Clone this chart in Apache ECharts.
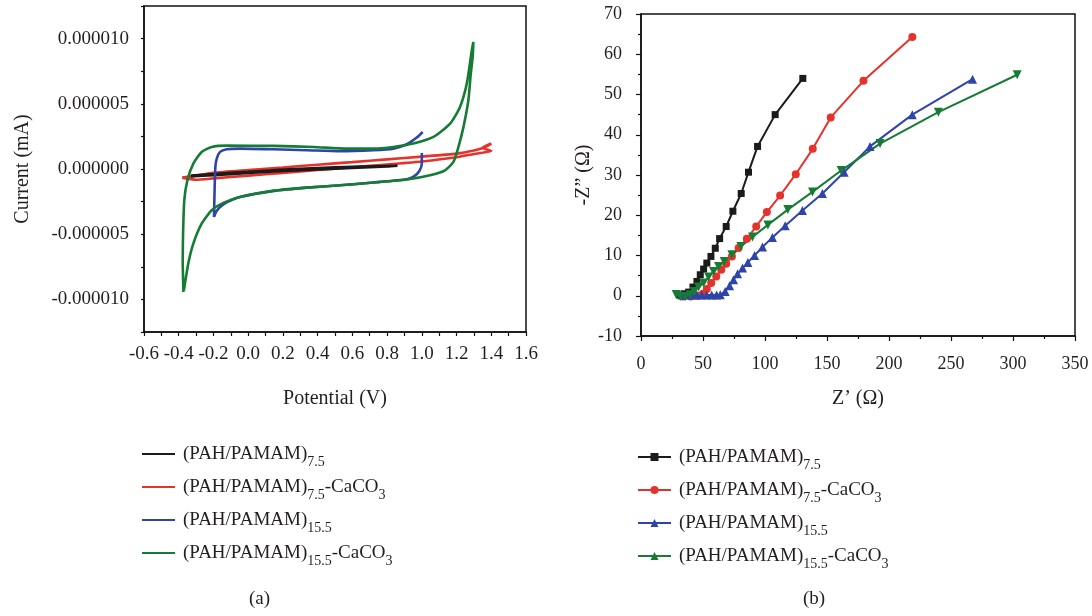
<!DOCTYPE html>
<html>
<head>
<meta charset="utf-8">
<script src="https://cdn.jsdelivr.net/npm/echarts@6/dist/echarts.min.js"></script>
<style>
html,body{margin:0;padding:0;background:#fff;}
#chart{width:1092px;height:616px;}
</style>
</head>
<body>
<div id="chart"></div>
<script>
// ---------- (a) Cyclic voltammetry: [Potential (V), Current (mA)] ----------
var cvBlack = [[-0.33,-0.50e-6],[-0.2,-0.38e-6],[0,-0.22e-6],[0.2,-0.05e-6],[0.4,0.08e-6],[0.6,0.16e-6],[0.86,0.25e-6],
  [0.8,0.19e-6],[0.6,0.08e-6],[0.4,-0.04e-6],[0.2,-0.15e-6],[0,-0.31e-6],[-0.2,-0.47e-6],[-0.33,-0.58e-6]];
var cvRed = [[-0.38,-0.66e-6],[-0.3,-0.50e-6],[-0.2,-0.29e-6],[0,-0.08e-6],[0.2,0.12e-6],[0.4,0.33e-6],[0.6,0.53e-6],
  [0.8,0.74e-6],[1.0,0.95e-6],[1.2,1.18e-6],[1.3,1.42e-6],[1.36,1.65e-6],[1.40,1.95e-6],[1.35,1.62e-6],[1.40,1.38e-6],
  [1.3,1.15e-6],[1.2,0.90e-6],[1.0,0.58e-6],[0.8,0.35e-6],[0.6,0.13e-6],[0.4,-0.08e-6],[0.2,-0.30e-6],[0,-0.51e-6],
  [-0.2,-0.72e-6],[-0.3,-0.82e-6],[-0.38,-0.66e-6]];
var cvBlueForward = [[-0.197,-3.68e-6],[-0.193,-1.37e-6],[-0.189,0.16e-6],[-0.181,0.80e-6],[-0.162,1.31e-6],[-0.124,1.51e-6],
  [-0.047,1.56e-6],[0.145,1.51e-6],[0.337,1.44e-6],[0.529,1.36e-6],[0.721,1.44e-6],[0.836,1.56e-6],[0.913,1.90e-6],
  [0.971,2.41e-6],[1.005,2.84e-6]];
var cvBlueReverse = [[1.0,1.23e-6],[1.0,0.42e-6],[0.986,-0.15e-6],[0.955,-0.56e-6],[0.913,-0.79e-6],[0.721,-1.04e-6],
  [0.529,-1.25e-6],[0.337,-1.43e-6],[0.145,-1.68e-6],[-0.047,-2.14e-6],[-0.124,-2.55e-6],[-0.162,-2.91e-6],
  [-0.185,-3.29e-6],[-0.197,-3.68e-6]];
var cvGreen = [[-0.373,-9.43e-6],[-0.377,-7.00e-6],[-0.375,-4.95e-6],[-0.368,-2.40e-6],[-0.350,-0.86e-6],[-0.316,0.41e-6],
  [-0.268,1.31e-6],[-0.210,1.69e-6],[-0.124,1.79e-6],[0.145,1.77e-6],[0.375,1.69e-6],[0.567,1.56e-6],[0.721,1.56e-6],
  [0.836,1.69e-6],[0.951,1.95e-6],[1.067,2.46e-6],[1.163,3.48e-6],[1.220,4.76e-6],[1.259,6.55e-6],[1.288,9.11e-6],
  [1.297,9.74e-6],[1.293,8.59e-6],[1.282,7.32e-6],[1.268,5.27e-6],[1.240,3.23e-6],[1.211,1.69e-6],[1.182,0.54e-6],
  [1.134,-0.10e-6],[1.047,-0.48e-6],[0.913,-0.81e-6],[0.721,-1.04e-6],[0.529,-1.25e-6],[0.337,-1.43e-6],
  [0.145,-1.68e-6],[-0.047,-2.14e-6],[-0.143,-2.60e-6],[-0.210,-3.16e-6],[-0.268,-4.19e-6],[-0.316,-5.72e-6],
  [-0.345,-7.25e-6],[-0.370,-9.30e-6]];

// ---------- (b) Nyquist plots: [Z' (Ohm), -Z'' (Ohm)] ----------
var eisBlack = [[31,0.2],[35,0.5],[38.4,0.9],[41.9,2.15],[45.1,3.56],[47.8,5.22],[50.5,6.63],[53.1,8.12],[56.4,9.77],
  [59.9,11.8],[63.4,14.2],[68.7,17.2],[74.1,21.0],[80.8,25.4],[86.7,30.7],[94.0,37.1],[108.2,45.0],[130.5,54.0]];
var eisRed = [[34,-0.2],[40,-0.2],[45.6,0],[49.9,0.5],[53.1,1.66],[56.6,3.15],[60.7,4.8],[64.7,6.46],[68.7,7.95],
  [73.3,9.77],[78.7,11.84],[85.4,14.16],[92.9,17.23],[101.5,20.8],[112.2,24.9],[124.8,30.2],[138.5,36.5],
  [153.0,44.3],[179.4,53.4],[218.8,64.3]];
var eisBlue = [[33,0.2],[37,0.2],[41,0.2],[45,0.2],[49,0.2],[53,0.2],[57,0.2],[61,0.2],[63.9,0.25],[67.9,1.08],
  [71.4,2.48],[74.6,3.97],[77.9,5.47],[81.9,6.87],[86.2,8.28],[91.6,10.02],[98.0,12.1],[106.0,14.5],[116.3,17.4],
  [130.2,21.2],[146.3,25.4],[163.8,30.7],[184.7,37.1],[218.8,45.0],[267.4,53.8]];
var eisGreen = [[28.4,0.3],[31.7,-0.2],[35.7,-0.2],[39.7,0.25],[42.9,1.08],[46.4,2.15],[50.5,3.15],[54.5,4.64],
  [58.5,6.04],[62.5,7.29],[67.1,8.53],[73.3,10.19],[80.5,12.26],[89.9,14.6],[102.3,17.6],[118.4,21.4],[138.3,25.8],
  [161.4,31.1],[192.8,37.8],[239.8,45.6],[303.4,54.9]];

// ---------- labels ----------
var sampleNames = ['(PAH/PAMAM)_7.5', '(PAH/PAMAM)_7.5-CaCO_3', '(PAH/PAMAM)_15.5', '(PAH/PAMAM)_15.5-CaCO_3'];
var cvAxisNames = ['Potential (V)', 'Current (mA)'];
var eisAxisNames = ['Z\u2019 (\u03A9)', '-Z\u201D (\u03A9)'];
var captions = ['(a)', '(b)'];

var colBlack = '#1b1b1b', colRed = '#e5322b', colBlue = '#2e44a8', colGreen = '#167c34';
var FONT = '"Liberation Serif", "DejaVu Serif", serif';
var TXT = '#231f20';

function richName(s) {
  var out = '', parts = s.split('_');
  out += '{f|' + parts[0] + '}';
  for (var i = 1; i < parts.length; i++) {
    var m = parts[i].match(/^([0-9.]+)(.*)$/);
    out += '{s|' + m[1] + '}';
    if (m[2]) out += '{m|' + m[2] + '}';
  }
  return out;
}
var richStyle = {
  f: {fontFamily: FONT, fontSize: 19, color: TXT, lineHeight: 22, verticalAlign: 'top', padding: [2, 0, 0, 3]},
  m: {fontFamily: FONT, fontSize: 19, color: TXT, lineHeight: 22, verticalAlign: 'top', padding: [2, 0, 0, 0]},
  s: {fontFamily: FONT, fontSize: 14, color: TXT, lineHeight: 14, verticalAlign: 'top', padding: [12, 0, 0, 0]}
};

var cvNames = sampleNames.map(function (n) { return 'CV ' + n; });
var eisNames = sampleNames.map(function (n) { return 'EIS ' + n; });

function lblFont(size) { return {fontFamily: FONT, fontSize: size, color: TXT}; }

var chart = echarts.init(document.getElementById('chart'), null, {renderer: 'canvas'});
var option = {
  animation: false,
  backgroundColor: '#fff',
  grid: [
    {left: 144, top: 6, width: 382, height: 326, show: true, borderColor: '#111', borderWidth: 1.5, backgroundColor: 'transparent'},
    {left: 641, top: 14, width: 434, height: 322, show: true, borderColor: '#111', borderWidth: 1.5, backgroundColor: 'transparent'}
  ],
  xAxis: [
    {gridIndex: 0, type: 'value', min: -0.6, max: 1.6, interval: 0.2,
     name: cvAxisNames[0], nameLocation: 'middle', nameGap: 57, nameTextStyle: lblFont(20),
     axisLine: {onZero: false, lineStyle: {color: '#111', width: 1.5}},
     axisTick: {show: true, length: 4, lineStyle: {color: '#111', width: 1.2}},
     minorTick: {show: true, splitNumber: 2, length: 4, lineStyle: {color: '#111', width: 1.2}},
     splitLine: {show: false},
     axisLabel: Object.assign(lblFont(19), {margin: 13, formatter: function (v) { if (Math.abs(v) < 1e-9) v = 0; return v.toFixed(1); }})},
    {gridIndex: 1, type: 'value', min: 0, max: 350, interval: 50,
     name: eisAxisNames[0], nameLocation: 'middle', nameGap: 53, nameTextStyle: lblFont(20),
     axisLine: {onZero: false, lineStyle: {color: '#111', width: 1.5}},
     axisTick: {show: true, length: 5, lineStyle: {color: '#111', width: 1.2}},
     minorTick: {show: true, splitNumber: 2, length: 3, lineStyle: {color: '#111', width: 1.2}},
     splitLine: {show: false},
     axisLabel: Object.assign(lblFont(18), {margin: 19})}
  ],
  yAxis: [
    {gridIndex: 0, type: 'value', min: -1.25e-5, max: 1.25e-5, interval: 2.5e-6,
     name: cvAxisNames[1], nameLocation: 'middle', nameGap: 111, nameTextStyle: lblFont(20),
     axisLine: {onZero: false, lineStyle: {color: '#111', width: 1.5}},
     axisTick: {show: true, length: 3, lineStyle: {color: '#111', width: 1.2}},
     splitLine: {show: false},
     axisLabel: Object.assign(lblFont(19), {margin: 15, formatter: function (v) {
       var k = Math.round(v / 2.5e-6);
       if (Math.abs(k) % 2 === 1) return '';
       if (Math.abs(v) < 1e-12) return '0.000000';
       return v.toFixed(6);
     }})},
    {gridIndex: 1, type: 'value', min: -10, max: 70, interval: 10,
     name: eisAxisNames[1], nameLocation: 'middle', nameGap: 44, nameTextStyle: lblFont(20),
     axisLine: {onZero: false, lineStyle: {color: '#111', width: 1.5}},
     axisTick: {show: true, length: 5, lineStyle: {color: '#111', width: 1.2}},
     minorTick: {show: true, splitNumber: 2, length: 3, lineStyle: {color: '#111', width: 1.2}},
     splitLine: {show: false},
     axisLabel: Object.assign(lblFont(18), {margin: 19})}
  ],
  legend: [
    {data: cvNames, orient: 'vertical', left: 137, top: 438, itemWidth: 33, itemHeight: 2, itemGap: 7,
     icon: 'rect', selectedMode: false, formatter: function (n) { return richName(n.replace('CV ', '')); },
     textStyle: {rich: richStyle}},
    {data: eisNames, orient: 'vertical', left: 632, top: 441, itemWidth: 33, itemHeight: 10, itemGap: 7,
     symbolRotate: 0, selectedMode: false, formatter: function (n) { return richName(n.replace('EIS ', '')); },
     textStyle: {rich: richStyle}}
  ],
  graphic: [
    {type: 'text', left: 249, top: 590, style: {text: captions[0], font: '19px ' + FONT, fill: TXT}},
    {type: 'text', left: 803, top: 590, style: {text: captions[1], font: '19px ' + FONT, fill: TXT}}
  ],
  series: [
    {name: cvNames[1], type: 'line', xAxisIndex: 0, yAxisIndex: 0, data: cvRed, symbol: 'none', smooth: 0.2,
     lineStyle: {color: colRed, width: 2.6}, itemStyle: {color: colRed}},
    {name: cvNames[0], type: 'line', xAxisIndex: 0, yAxisIndex: 0, data: cvBlack, symbol: 'none', smooth: 0.2,
     lineStyle: {color: colBlack, width: 2.6}, itemStyle: {color: colBlack}},
    {name: cvNames[2], type: 'line', xAxisIndex: 0, yAxisIndex: 0, data: cvBlueForward.concat([[1.0, null]], cvBlueReverse),
     symbol: 'none', smooth: 0.2, connectNulls: false,
     lineStyle: {color: colBlue, width: 2.6}, itemStyle: {color: colBlue}},
    {name: cvNames[3], type: 'line', xAxisIndex: 0, yAxisIndex: 0, data: cvGreen, symbol: 'none', smooth: 0.2,
     lineStyle: {color: colGreen, width: 2.6}, itemStyle: {color: colGreen}},

    {name: eisNames[0], type: 'line', xAxisIndex: 1, yAxisIndex: 1, data: eisBlack, symbol: 'rect', symbolSize: 7,
     lineStyle: {color: colBlack, width: 2}, itemStyle: {color: colBlack}},
    {name: eisNames[1], type: 'line', xAxisIndex: 1, yAxisIndex: 1, data: eisRed, symbol: 'circle', symbolSize: 8,
     lineStyle: {color: colRed, width: 2}, itemStyle: {color: colRed}},
    {name: eisNames[2], type: 'line', xAxisIndex: 1, yAxisIndex: 1, data: eisBlue, symbol: 'triangle', symbolSize: 9,
     lineStyle: {color: colBlue, width: 2}, itemStyle: {color: colBlue}},
    {name: eisNames[3], type: 'line', xAxisIndex: 1, yAxisIndex: 1, data: eisGreen, symbol: 'triangle', symbolSize: 9,
     symbolRotate: 180, lineStyle: {color: colGreen, width: 2}, itemStyle: {color: colGreen}}
  ]
};
chart.setOption(option);
</script>
</body>
</html>
